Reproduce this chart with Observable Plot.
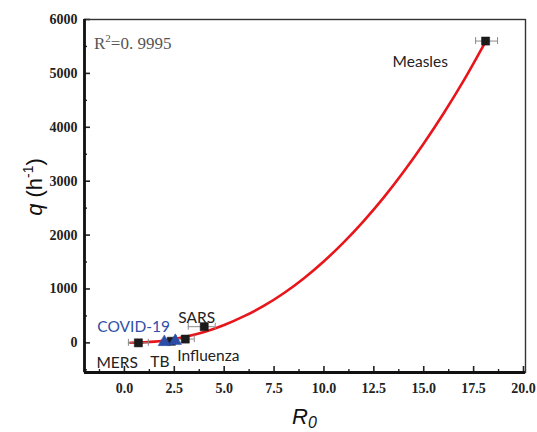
<!DOCTYPE html>
<html><head><meta charset="utf-8">
<script src="https://cdn.jsdelivr.net/npm/d3@7"></script>
<script src="https://cdn.jsdelivr.net/npm/@observablehq/plot@0.6"></script>
<style>body{margin:0;background:#fff}</style>
</head><body><div id="chart"></div>
<script>
// Disease points (black squares)
const diseases = ["MERS", "TB", "Influenza", "SARS", "Measles"];
const diseaseR0 = [0.7, 2.35, 3.05, 4.0, 18.1];
const diseaseQ = [0, 30, 70, 300, 5600];
const diseaseR0Low = [0.2, null, 2.6, 3.2, 17.6];
const diseaseR0High = [1.2, null, 3.5, 4.55, 18.7];

// COVID-19 points (blue triangles)
const covidR0 = [2.0, 2.55];
const covidQ = [15, 35];

// Fitted curve
const curveR0 = [0.3, 0.7, 1.0, 1.5, 2.0, 2.5, 3.0, 4.0, 5.0, 6.0, 7.0, 8.0, 9.0, 10.0, 11.0, 12.0, 13.0, 14.0, 15.0, 16.0, 17.0, 18.1];
const curveQ  = [1, 4, 10, 23, 44, 72, 107, 200, 330, 495, 690, 925, 1200, 1515, 1870, 2265, 2700, 3180, 3700, 4260, 4865, 5590];

const xTicks = [0, 2.5, 5, 7.5, 10, 12.5, 15, 17.5, 20];
const xMinor = [-1.25, 1.25, 3.75, 6.25, 8.75, 11.25, 13.75, 16.25, 18.75];
const yTicks = [0, 1000, 2000, 3000, 4000, 5000, 6000];
const yMinor = [-500, 500, 1500, 2500, 3500, 4500, 5500];

const fitText = ["R", "2", "=0. 9995"];

const points = diseases.map((name, i) => ({name, r0: diseaseR0[i], q: diseaseQ[i], lo: diseaseR0Low[i], hi: diseaseR0High[i]}));
const errs = points.filter(d => d.lo != null);
const caps = errs.flatMap(d => [{v: d.lo, q: d.q}, {v: d.hi, q: d.q}]);
const covid = covidR0.map((r0, i) => ({r0, q: covidQ[i]}));
const curve = curveR0.map((r0, i) => ({r0, q: curveQ[i]}));

const X0 = -2, X1 = 20.1, Y0 = -550, Y1 = 6000;
const W = 537, H = 432, ML = 84, MR = 12, MT = 19, MB = 60;
const pxX = (X1 - X0) / (W - ML - MR);
const pxY = (Y1 - Y0) / (H - MT - MB);

const byName = n => points.filter(d => d.name === n);
const lab = (n, o) => Plot.text(byName(n), {x: "r0", y: "q", text: "name", textAnchor: "start", fontFamily: "Lato, 'Open Sans', sans-serif", fontSize: 15.5, fill: "#222", ...o});

const plot = Plot.plot({
  width: W, height: H,
  marginLeft: ML, marginRight: MR, marginTop: MT, marginBottom: MB,
  x: {domain: [X0, X1]},
  y: {domain: [Y0, Y1]},
  style: {background: "#fff"},
  marks: [
    Plot.axisX(xTicks, {tickSize: 0, tickPadding: 11, tickFormat: d => d.toFixed(1), fontFamily: "'Liberation Serif', 'DejaVu Serif', serif", fontWeight: "bold", fontSize: 14, fill: "#222", label: null}),
    Plot.axisY(yTicks, {tickSize: 0, tickPadding: 7, tickFormat: d => String(d), fontFamily: "'Liberation Serif', 'DejaVu Serif', serif", fontWeight: "bold", fontSize: 14, fill: "#222", label: null}),
    Plot.ruleX(xTicks, {x: d => d, y1: Y0, y2: Y0 + 6 * pxY, stroke: "#222", strokeWidth: 1.6}),
    Plot.ruleX(xMinor, {x: d => d, y1: Y0, y2: Y0 + 3 * pxY, stroke: "#222", strokeWidth: 1.4}),
    Plot.ruleY(yTicks, {y: d => d, x1: X0, x2: X0 + 6 * pxX, stroke: "#222", strokeWidth: 1.6}),
    Plot.ruleY(yMinor, {y: d => d, x1: X0, x2: X0 + 3 * pxX, stroke: "#222", strokeWidth: 1.4}),
    Plot.frame({stroke: "#333", strokeWidth: 1.4}),
    Plot.ruleX([X0], {stroke: "#111", strokeWidth: 2.8}),
    Plot.ruleY([Y0], {stroke: "#111", strokeWidth: 2.8}),
    Plot.line(curve, {x: "r0", y: "q", stroke: "#e8161b", strokeWidth: 2.6, curve: "monotone-x"}),
    Plot.ruleY(errs, {y: "q", x1: "lo", x2: "hi", stroke: "#8a8a8a", strokeWidth: 1}),
    Plot.ruleX(caps, {x: "v", y1: d => d.q - 3.5 * pxY, y2: d => d.q + 3.5 * pxY, stroke: "#8a8a8a", strokeWidth: 1}),
    Plot.dot(points, {x: "r0", y: "q", symbol: "square", r: 4.6, fill: "#1b1b1b", stroke: "#1b1b1b", strokeWidth: 0.5}),
    Plot.dot(covid, {x: "r0", y: "q", symbol: "triangle", r: 4.6, fill: "#2a4ea6", stroke: "#2a4ea6", strokeWidth: 0.5}),
    lab("Measles", {dx: -93, dy: 21}),
    lab("SARS", {dx: -26, dy: -9}),
    lab("MERS", {dx: -42, dy: 20}),
    lab("TB", {dx: -21, dy: 21}),
    lab("Influenza", {dx: -8, dy: 17}),
    Plot.text(covid.slice(0, 1), {x: "r0", y: "q", text: () => "COVID-19", textAnchor: "start", dx: -67, dy: -15, fontFamily: "Lato, 'Open Sans', sans-serif", fontSize: 15.5, fill: "#2f4fa8"})
  ]
});
document.getElementById("chart").appendChild(plot);

const svg = d3.select(plot);
// R^2 annotation
const r2 = svg.append("text").attr("x", 94).attr("y", 49).attr("text-anchor", "start")
  .attr("font-family", "'Liberation Serif', 'DejaVu Serif', serif").attr("font-size", 17).attr("fill", "#555");
r2.append("tspan").text(fitText[0]);
r2.append("tspan").attr("font-size", 11).attr("dy", -7).text(fitText[1]);
r2.append("tspan").attr("dy", 7).text(fitText[2]);

// y title
const yt = svg.append("text").attr("transform", "translate(42,187) rotate(-90)").attr("text-anchor", "middle")
  .attr("font-family", "'Liberation Sans', Arial, sans-serif").attr("font-size", 22).attr("fill", "#111");
yt.append("tspan").attr("font-style", "italic").text("q");
yt.append("tspan").text(" (h");
yt.append("tspan").attr("font-size", 14).attr("dy", -9).text("-1");
yt.append("tspan").attr("dy", 9).text(")");

// x title
const xt = svg.append("text").attr("x", 292).attr("y", 424).attr("text-anchor", "start")
  .attr("font-family", "'Liberation Sans', Arial, sans-serif").attr("font-size", 22).attr("font-style", "italic").attr("fill", "#111");
xt.append("tspan").text("R");
xt.append("tspan").attr("font-size", 16).attr("dy", 4).text("0");
</script>
</body></html>
